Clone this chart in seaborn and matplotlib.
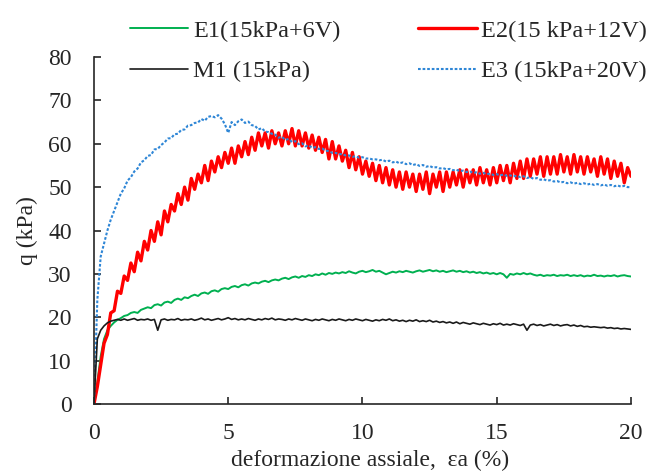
import numpy as np
import pandas as pd
import matplotlib
matplotlib.use("Agg")
import matplotlib.pyplot as plt
import seaborn as sns

# Axial strain sampling grid (%), one reading every 0.125 %
strain = np.linspace(0.0, 20.0, 161)

# Deviator stress q (kPa), eight readings per 1 % of strain
q_m1 = [
    0, 15, 17, 18, 18.7, 19.1, 19.3, 19.5,
    19.3, 19.6, 19.3, 19.5, 19.7, 19.3, 19.5, 19.4,
    19.6, 19.3, 19.5, 17.0, 19.4, 19.6, 19.3, 19.5,
    19.4, 19.7, 19.3, 19.5, 19.4, 19.6, 19.3, 19.5,
    19.8, 19.4, 19.6, 19.3, 19.5, 19.7, 19.4, 19.6,
    19.9, 19.5, 19.7, 19.4, 19.6, 19.4, 19.7, 19.5,
    19.3, 19.6, 19.4, 19.7, 19.5, 19.8, 19.4, 19.6,
    19.5, 19.3, 19.6, 19.4, 19.7, 19.5, 19.3, 19.6,
    19.4, 19.2, 19.5, 19.3, 19.6, 19.4, 19.2, 19.5,
    19.3, 19.6, 19.4, 19.2, 19.5, 19.3, 19.6, 19.4,
    19.2, 19.5, 19.3, 19.1, 19.4, 19.2, 19.5, 19.3,
    19.6, 19.2, 19.4, 19.1, 19.3, 19.0, 19.3, 19.1,
    19.4, 19.0, 19.2, 19.0, 19.3, 18.9, 19.1, 18.8,
    19.0, 18.7, 18.9, 18.6, 18.9, 18.5, 18.8, 18.6,
    18.4, 18.7, 18.5, 18.3, 18.6, 18.4, 18.2, 18.5,
    18.3, 18.6, 18.2, 18.4, 18.2, 18.5, 18.3, 18.1,
    18.4, 17.0, 18.2, 18.4, 18.1, 18.3, 18.0, 18.2,
    18.4, 18.1, 18.3, 18.0, 18.2, 18.3, 18.0, 18.2,
    17.9, 18.1, 17.8, 17.9, 17.7, 17.8, 17.7, 17.6,
    17.7, 17.5, 17.6, 17.4, 17.5, 17.3, 17.4, 17.3,
    17.2,
]

q_e1 = [
    0, 5, 11, 15, 17, 18, 18.8, 19.4,
    19.8, 20.3, 20.5, 21.0, 21.2, 21.0, 21.7, 22.0,
    22.3, 22.1, 22.8, 23.0, 22.7, 23.4, 23.6, 23.3,
    24.0, 24.3, 24.0, 24.6, 24.4, 24.9, 25.2, 24.9,
    25.5, 25.7, 25.4, 26.0, 26.2, 25.9, 26.5, 26.7,
    26.5, 27.0, 27.2, 26.9, 27.4, 27.6, 27.3, 27.8,
    28.0, 27.8, 28.2, 28.4, 28.1, 28.5, 28.7, 28.5,
    28.9, 29.1, 28.8, 29.2, 29.4, 29.1, 29.5, 29.3,
    29.7, 29.5, 29.9, 29.7, 30.1, 29.8, 30.2, 30.0,
    30.3, 30.1, 30.4, 30.2, 30.6, 30.3, 30.1, 30.5,
    30.7, 30.4, 30.6, 30.9, 30.5, 30.7, 30.3, 29.9,
    30.2, 30.5, 30.3, 30.6, 30.4, 30.7, 30.5, 30.3,
    30.6, 30.8, 30.5, 30.7, 30.9, 30.6, 30.8, 30.5,
    30.7, 30.4, 30.6, 30.8, 30.5, 30.7, 30.4, 30.6,
    30.3, 30.5, 30.2, 30.4, 30.1, 30.3, 30.0, 30.2,
    29.9, 30.2, 29.9, 29.1, 30.0, 29.8, 30.1, 29.9,
    30.2, 29.9, 30.1, 29.8, 29.6, 29.8, 29.5, 29.7,
    29.6, 29.8, 29.5, 29.7, 29.6, 29.8, 29.5, 29.7,
    29.5, 29.7, 29.4, 29.6, 29.5, 29.8, 29.5, 29.6,
    29.4, 29.6, 29.5, 29.7, 29.4, 29.6, 29.7, 29.5,
    29.4,
]

q_e2 = [
    0, 4, 9, 14, 16, 21, 21.5, 26,
    25.5, 29.5, 28.5, 32.5, 30.5, 35, 33, 37.5,
    35.5, 40, 37.5, 42, 39, 44.5, 42, 46,
    44.5, 48.5, 46, 50, 47, 52, 49.5, 53,
    51, 55, 51.5, 56, 53.5, 57, 54.5, 58,
    55.5, 59, 55.5, 59.5, 57, 60.5, 57.5, 61.5,
    58.5, 62.5, 59.5, 62.5, 59, 63, 60, 62.5,
    59.5, 63, 60, 63.5, 59.5, 63, 59.5, 62.5,
    59, 62, 58.5, 61.5, 58, 61, 56.5, 60.5,
    56.5, 59.5, 56, 58.5, 54.5, 58, 54, 57,
    53, 56, 52.5, 55.5, 51.5, 55, 51, 54.5,
    50.5, 54, 50, 53.5, 49.5, 53.5, 50, 53,
    49, 53, 49.5, 53.5, 48.5, 53, 50, 53.5,
    49, 53.5, 50, 53.5, 50.5, 54, 50, 54,
    51, 54, 50.5, 54.5, 51, 54, 50.5, 54.5,
    51, 55, 51.5, 55, 51, 55.5, 52, 56,
    52, 56.5, 52.5, 56.5, 53, 57, 52.5, 57,
    53, 57, 53, 57.5, 53.5, 57, 53, 57.5,
    53.5, 57, 53, 57, 53.5, 56.5, 52.5, 57,
    53, 56.5, 52, 56, 52.5, 55.5, 51, 54.5,
    52.5,
]

q_e3 = [
    0, 24, 34, 37, 40, 42.5, 44.5, 46.5,
    48.5, 49.7, 51.5, 52.3, 53.6, 54.3, 55.7, 56.2,
    57.2, 57.4, 58.7, 58.8, 59.7, 60.3, 61.2, 61.3,
    62.2, 62.3, 63.2, 63.3, 64.2, 64.3, 64.8, 64.9,
    65.7, 65.3, 66.2, 66.4, 66.1, 66.6, 65.8, 64.5,
    62.5, 65.0, 64.3, 65.2, 65.6, 64.8, 65.1, 64.3,
    64.1, 63.3, 63.6, 62.8, 62.7, 62.3, 62.1, 61.4,
    61.6, 60.9, 61.1, 60.4, 60.6, 59.9, 60.1, 59.4,
    59.6, 59.1, 59.2, 58.8, 58.9, 58.4, 58.3, 57.9,
    57.9, 57.6, 57.6, 57.3, 57.3, 57.0, 57.1, 56.8,
    56.9, 56.6, 56.6, 56.4, 56.4, 56.2, 56.3, 55.9,
    56.1, 55.7, 55.9, 55.5, 55.7, 55.3, 55.5, 55.1,
    55.3, 54.9, 55.1, 54.7, 54.9, 54.5, 54.6, 54.3,
    54.4, 54.1, 54.2, 53.9, 54.0, 53.7, 53.8, 53.5,
    53.6, 53.3, 53.4, 53.1, 53.3, 53.0, 53.1, 52.8,
    53.0, 52.7, 52.9, 52.6, 52.7, 52.5, 52.6, 52.3,
    52.5, 52.1, 52.3, 51.9, 52.1, 51.7, 51.8, 51.5,
    51.6, 51.3, 51.4, 51.1, 51.2, 50.9, 51.1, 50.8,
    51.0, 50.7, 50.9, 50.6, 50.8, 50.5, 50.7, 50.4,
    50.6, 50.3, 50.5, 50.2, 50.4, 50.1, 50.3, 50.0,
    50.0,
]

labels = ["E1(15kPa+6V)", "M1 (15kPa)", "E2(15 kPa+12V)", "E3 (15kPa+20V)"]
x_ticks = [0, 5, 10, 15, 20]
y_ticks = [0, 10, 20, 30, 40, 50, 60, 70, 80]

sns.set_theme(style="white")
plt.rcParams["font.family"] = ["Liberation Serif", "DejaVu Serif"]
plt.rcParams["font.size"] = 17

fig = plt.figure(figsize=(6.59, 4.72), dpi=100)
ax = fig.add_axes([0.1426, 0.1441, 0.8149, 0.7351])

styles = {
    labels[0]: dict(y=q_e1, color="#00B050", lw=1.4, ls="-"),
    labels[2]: dict(y=q_e2, color="#FF0000", lw=2.4, ls="-"),
    labels[3]: dict(y=q_e3, color="#2E86D6", lw=1.5, ls=(0, (1.3, 0.9))),
    labels[1]: dict(y=q_m1, color="#1A1A1A", lw=1.2, ls="-"),
}

handles = {}
for name, st in styles.items():
    df = pd.DataFrame({"strain": strain, "q": st["y"]})
    sns.lineplot(data=df, x="strain", y="q", ax=ax, color=st["color"],
                 linewidth=st["lw"], linestyle=st["ls"], label=name,
                 legend=False, estimator=None)
    handles[name] = ax.lines[-1]

ax.set_xlim(0, 20)
ax.set_ylim(0, 80)
ax.set_xticks(x_ticks)
ax.set_yticks(y_ticks)
for side in ("top", "right"):
    ax.spines[side].set_visible(False)
for side in ("left", "bottom"):
    ax.spines[side].set_color("#262626")
    ax.spines[side].set_linewidth(1.2)
ax.tick_params(axis="both", direction="in", length=5, width=1.2,
               bottom=True, left=True, top=False, right=False,
               colors="#262626", labelsize=17, labelcolor="#262626")
ax.tick_params(axis="y", pad=16)
ax.tick_params(axis="x", pad=14)
ax.set_xlabel("deformazione assiale,  εa (%)", fontsize=17, color="#262626",
              labelpad=4)
ax.xaxis.label.set_x(0.515)
ax.set_ylabel("q (kPa)", fontsize=17, color="#262626", labelpad=7)

fig.legend([handles[n] for n in labels], labels, ncol=2, frameon=False,
           loc="upper left", bbox_to_anchor=(0.197, 0.958),
           handlelength=2.4, handletextpad=0.2, columnspacing=3.2,
           labelspacing=0.75, borderaxespad=0, borderpad=0, fontsize=17.5)

fig.savefig("out.png", dpi=100)
